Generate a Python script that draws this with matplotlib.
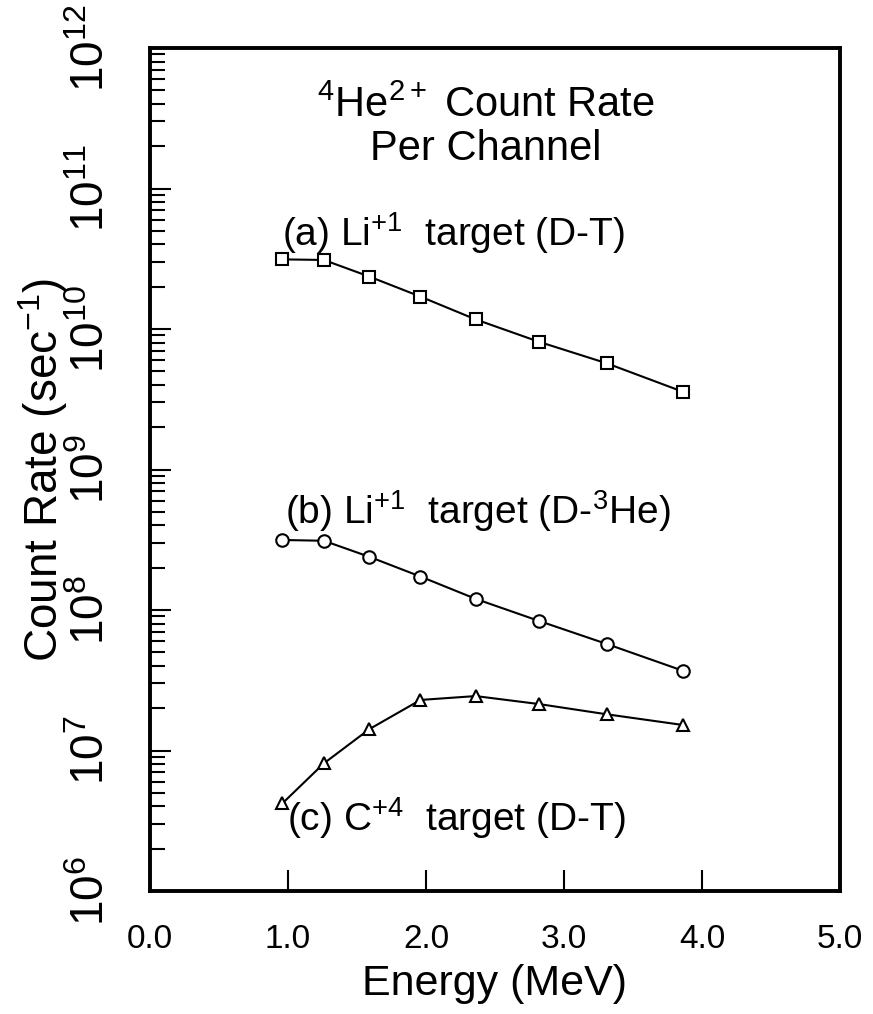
"""Count rate per channel vs energy for three target cases."""

import matplotlib
matplotlib.use("Agg")
import matplotlib.pyplot as plt
from matplotlib.ticker import LogLocator, NullFormatter, FixedLocator

plt.rcParams["font.family"] = ["Liberation Sans", "DejaVu Sans"]
plt.rcParams["mathtext.fontset"] = "custom"
plt.rcParams["mathtext.rm"] = "Liberation Sans"
plt.rcParams["mathtext.it"] = "Liberation Sans"
plt.rcParams["mathtext.bf"] = "Liberation Sans:bold"

# energies (MeV)
energy = [0.96, 1.26, 1.59, 1.96, 2.36, 2.82, 3.31, 3.86]

# (a) Li+1 target (D-T)
rate_a = [3.13e10, 3.10e10, 2.36e10, 1.70e10, 1.17e10, 8.1e9, 5.7e9, 3.58e9]
# (b) Li+1 target (D-3He)
rate_b = [3.15e8, 3.11e8, 2.39e8, 1.73e8, 1.20e8, 8.35e7, 5.73e7, 3.70e7]
# (c) C+4 target (D-T)
rate_c = [4.21e6, 8.1e6, 1.42e7, 2.29e7, 2.44e7, 2.14e7, 1.81e7, 1.52e7]

x_ticks = [0.0, 1.0, 2.0, 3.0, 4.0, 5.0]
x_ticklabels = ["0.0", "1.0", "2.0", "3.0", "4.0", "5.0"]
y_ticks = [1e6, 1e7, 1e8, 1e9, 1e10, 1e11, 1e12]
y_ticklabels = [r"$10^{6}$", r"$10^{7}$", r"$10^{8}$", r"$10^{9}$",
                r"$10^{10}$", r"$10^{11}$", r"$10^{12}$"]

W, H = 873, 1014
fig = plt.figure(figsize=(W / 100, H / 100), dpi=100)
ax = fig.add_axes([150 / W, 1 - 891 / H, 690 / W, (891 - 48) / H])

style = dict(color="black", lw=1.5, markerfacecolor="white",
             markeredgecolor="black", markeredgewidth=1.5, markersize=9)
ax.plot(energy, rate_a, marker="s", **style)
ax.plot(energy, rate_b, marker="o", **style)
ax.plot(energy, rate_c, marker="^", **style)

ax.set_yscale("log")
ax.set_xlim(0, 5)
ax.set_ylim(1e6, 1e12)

ax.xaxis.set_major_locator(FixedLocator(x_ticks))
ax.set_xticklabels(x_ticklabels, fontsize=24)
ax.yaxis.set_major_locator(FixedLocator(y_ticks))
ax.set_yticklabels(y_ticklabels, fontsize=33, rotation=90, va="center")
ax.yaxis.set_minor_locator(LogLocator(base=10, subs=range(2, 10), numticks=20))
ax.yaxis.set_minor_formatter(NullFormatter())

ax.tick_params(axis="x", which="major", direction="in", length=15, width=1.5,
               pad=24, top=False)
ax.tick_params(axis="y", which="major", direction="in", length=15, width=1.5,
               pad=26, right=False)
ax.tick_params(axis="y", which="minor", direction="in", length=11, width=1.5,
               right=False)
# the 0.0 and 5.0 positions have no tick marks in the original
for t in ax.xaxis.get_major_ticks():
    if t.get_loc() in (0.0, 5.0):
        t.tick1line.set_visible(False)

for s in ax.spines.values():
    s.set_linewidth(2.8)

ax.set_xlabel("Energy (MeV)", fontsize=31, labelpad=6)
ax.set_ylabel(r"Count Rate (sec$^{-1}$)", fontsize=33, labelpad=0)

ax.text(0.487, 0.918, "$^{4}$He$^{2+}$ Count Rate", transform=ax.transAxes,
        ha="center", va="baseline", fontsize=30)
ax.text(0.487, 0.867, "Per Channel", transform=ax.transAxes,
        ha="center", va="baseline", fontsize=30)

ax.text(0.96, 10 ** 10.59, r"(a) Li$^{+1}$  target (D-T)", fontsize=28,
        va="baseline")
ax.text(0.98, 10 ** 8.61, r"(b) Li$^{+1}$  target (D-$^{3}$He)", fontsize=28,
        va="baseline")
ax.text(0.99, 10 ** 6.43, r"(c) C$^{+4}$  target (D-T)", fontsize=28,
        va="baseline")

fig.savefig("out.png", dpi=100)
